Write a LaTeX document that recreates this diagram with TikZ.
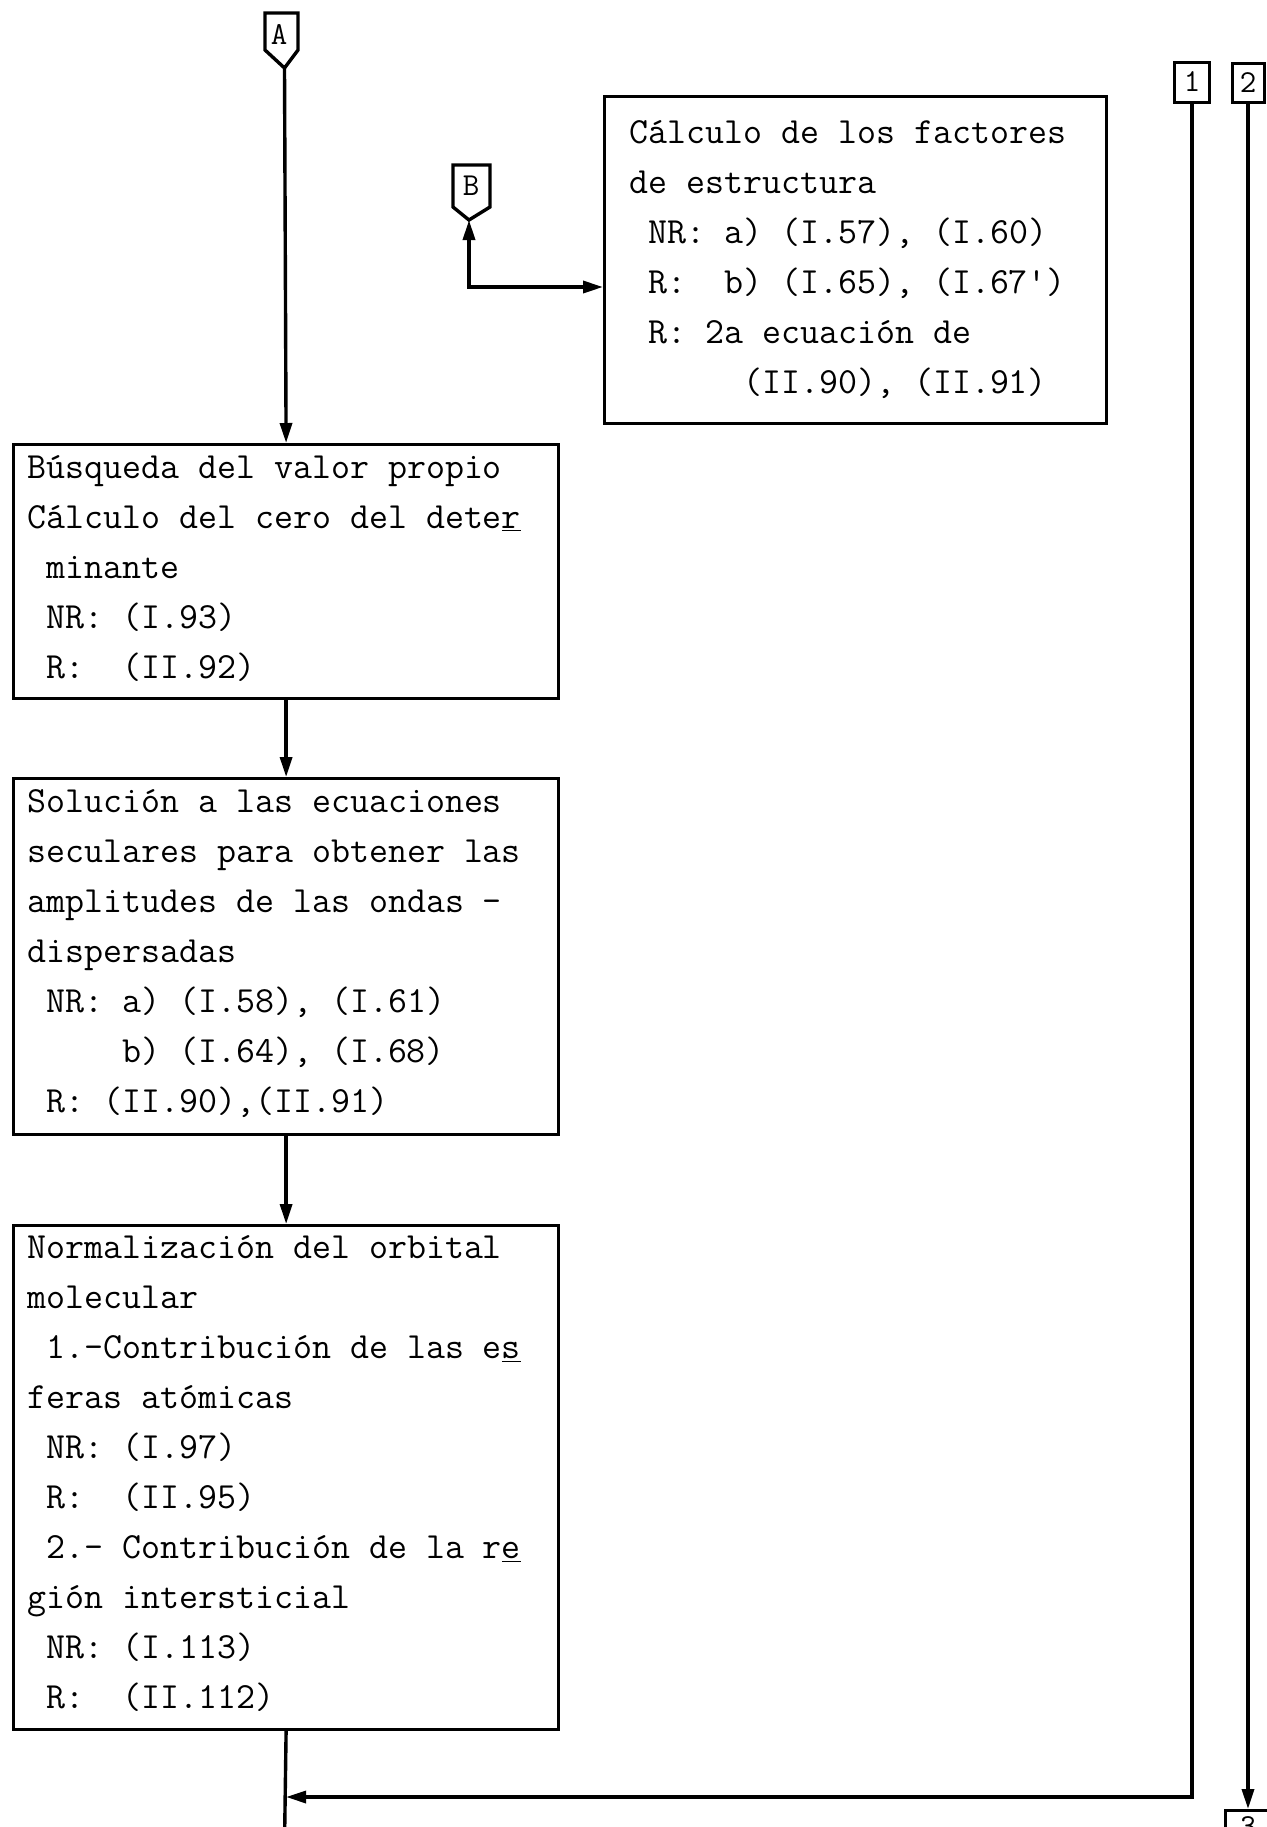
\documentclass[tikz,border=0pt]{standalone}
\usetikzlibrary{arrows.meta}
\newcommand\ks{\hphantom{0}}
\begin{document}
\begin{tikzpicture}[x=0.5pt,y=-0.5pt,
  box/.style={draw,line width=1.6pt,inner sep=0pt,anchor=north west},
  txt/.style={inner sep=0pt,anchor=base west,font=\ttfamily\fontsize{18.43}{25}\selectfont},
  lbl/.style={draw,line width=1.5pt,inner sep=0pt,font=\ttfamily\fontsize{16}{18}\selectfont},
  marktxt/.style={inner sep=0pt,font=\ttfamily\fontsize{16}{18}\selectfont},
  conn/.style={line width=1.7pt},
  mytip/.tip={Triangle[length=10pt,width=6pt]},
  arr/.style={conn,-mytip}]
\useasboundingbox (0,0) rectangle (1267,1827);

% boxes
\node[box,minimum width=272.5pt,minimum height=127pt] (b1) at (12,443) {};
\node[box,minimum width=272.5pt,minimum height=178pt] (b2) at (12,777) {};
\node[box,minimum width=272.5pt,minimum height=252pt] (b3) at (12,1224) {};
\node[box,minimum width=251pt,minimum height=163.5pt] (cal) at (603,95) {};

% texts
\node[txt] (t1) at (27,478) {\begin{tabular}[t]{@{}l@{}}
Búsqueda del valor propio\\
Cálculo del cero del dete\underline{r}\\
\ks minante\\
\ks NR: (I.93)\\
\ks R:\ks\ks(II.92)
\end{tabular}};

\node[txt] (t2) at (27,812) {\begin{tabular}[t]{@{}l@{}}
Solución a las ecuaciones\\
seculares para obtener las\\
amplitudes de las ondas -\\
dispersadas\\
\ks NR: a) (I.58), (I.61)\\
\ks\ks\ks\ks\ks b) (I.64), (I.68)\\
\ks R: (II.90),(II.91)
\end{tabular}};

\node[txt] (t3) at (27,1258) {\begin{tabular}[t]{@{}l@{}}
Normalización del orbital\\
molecular\\
\ks 1.-Contribución de las e\underline{s}\\
feras atómicas\\
\ks NR: (I.97)\\
\ks R:\ks\ks(II.95)\\
\ks 2.- Contribución de la r\underline{e}\\
gión intersticial\\
\ks NR: (I.113)\\
\ks R:\ks\ks(II.112)
\end{tabular}};

\node[txt] (tc) at (629,143) {\begin{tabular}[t]{@{}l@{}}
Cálculo de los factores\\
de estructura\\
\ks NR: a) (I.57), (I.60)\\
\ks R:\ks\ks b) (I.65), (I.67')\\
\ks R: 2a ecuación de\\
\ks\ks\ks\ks\ks\ks(II.90), (II.91)
\end{tabular}};

% connector A
\draw[conn] (265,13) -- (298,13) -- (298,50) -- (284.5,68) -- (265,50) -- cycle;
\node[marktxt] (A) at (279,34) {A};
\coordinate (Atip) at (284.5,68);

% connector B
\draw[conn] (453,165) -- (490,165) -- (490,207) -- (469,220) -- (453,207) -- cycle;
\node[marktxt] (B) at (471,186) {B};
\coordinate (Btip) at (469,220);
\coordinate (bc) at (469,287);
\draw[conn,mytip-mytip] (Btip) -- (bc) -- (bc -| cal.west);

% page connectors 1,2,3
\node[lbl,minimum width=17.5pt,minimum height=20pt] (n1) at (1192,82) {1};
\node[lbl,minimum width=16pt,minimum height=19.5pt] (n2) at (1248,82.5) {2};
\node[lbl,minimum width=23pt,minimum height=16pt,anchor=north] (n3) at (1248,1809) {3};
\coordinate (c1) at (1192,1797);
\coordinate (bot) at (284.5,1845);

\draw[arr] (Atip) -- (b1.north);
\draw[arr] (b1.south) -- (b2.north);
\draw[arr] (b2.south) -- (b3.north);
\draw[conn] (b3.south) -- (bot);
\draw[arr] (n1.south) -- (c1) -- (c1 -| b3.south);
\draw[arr] (n2.south) -- (n3.north);
\end{tikzpicture}
\end{document}
